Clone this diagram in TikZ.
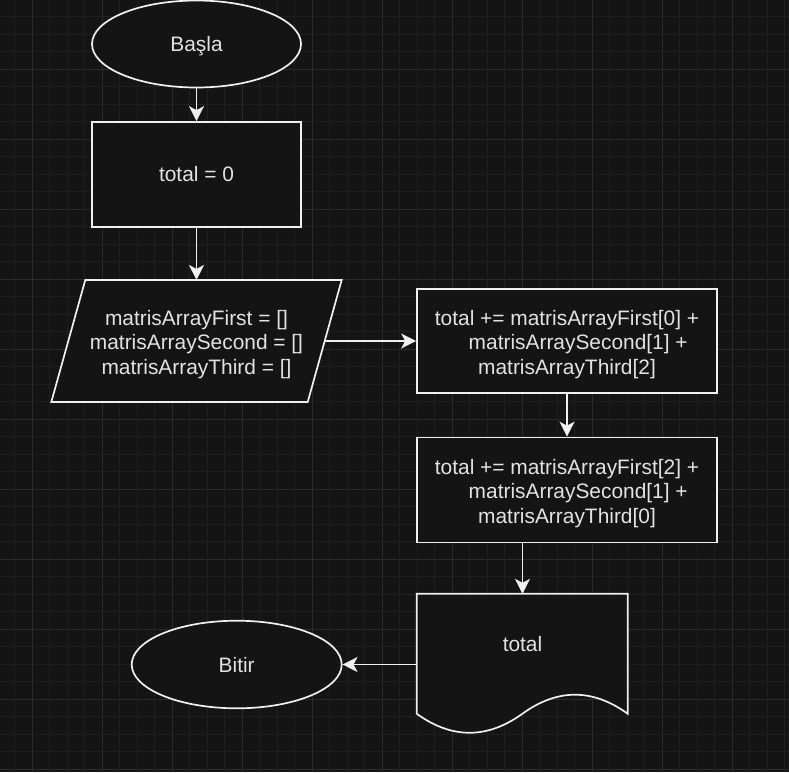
\documentclass[tikz,border=0pt]{standalone}
\usepackage{fontspec}
\setmainfont{Liberation Sans}
\usetikzlibrary{arrows.meta,shapes.geometric}
\definecolor{canvas}{HTML}{141414}
\definecolor{gridminor}{HTML}{1F1F1F}
\definecolor{gridmajor}{HTML}{2B2B2B}
\definecolor{ink}{HTML}{F0F0F0}
\definecolor{labelink}{HTML}{E2E2E2}
% taller first line so the text block sits a little lower in its box
\newcommand{\firstlinestrut}{\rule{0pt}{22.3pt}}

\begin{document}
\begin{tikzpicture}[x=1pt,y=-1pt,
  every node/.style={text=labelink, font=\fontsize{20.9}{24.5}\selectfont},
  shapeline/.style={draw=ink, line width=1.7pt, fill=canvas},
  terminal/.style={shapeline, ellipse, minimum width=209pt, minimum height=87pt, inner sep=0pt, text depth=0pt},
  process/.style={shapeline, rectangle, minimum width=300pt, minimum height=104.5pt, align=center, inner sep=0pt},
  frame/.style={rectangle, inner sep=0pt},
  flow/.style={draw=ink, line width=1.7pt, -{Stealth[length=15pt,width=15pt,inset=4pt]}},
  minorline/.style={draw=gridminor, line width=1pt},
  majorline/.style={draw=gridmajor, line width=1pt},
]
\useasboundingbox (0,0) rectangle (789,772);

% canvas and grid
\fill[canvas] (0,0) rectangle (789,772);
\foreach \k in {0,...,44} \draw[minorline] (14.8+17.5*\k,0) -- (14.8+17.5*\k,772);
\foreach \k in {0,...,43} \draw[minorline] (0,16.5+17.5*\k) -- (789,16.5+17.5*\k);
\foreach \k in {0,...,10} \draw[majorline] (32.3+70*\k,0) -- (32.3+70*\k,772);
\foreach \k in {0,...,10} \draw[majorline] (0,69+70*\k) -- (789,69+70*\k);

% start / init
\node[terminal] (start) at (196.5,44) {Başla};
\node[shapeline, rectangle, minimum width=209pt, minimum height=105pt, inner sep=0pt] (init) at (196.5,174.5) {total = 0};

% input parallelogram
\path node[frame, minimum width=256pt, minimum height=121.7pt] (inp) at (196.5,341) {};
\draw[shapeline] ([xshift=17pt]inp.north west) -- ([xshift=17pt]inp.north east)
  -- ([xshift=-17pt]inp.south east) -- ([xshift=-17pt]inp.south west) -- cycle;
\node[align=center, yshift=-3.5pt] (inptext) at (inp.center) {matrisArrayFirst = []\\matrisArraySecond = []\\matrisArrayThird = []};

% processing steps
\node[process] (sum1) at (567,341) {\firstlinestrut total += matrisArrayFirst[0] +\\\hspace*{22.4pt}matrisArraySecond[1] +\\matrisArrayThird[2]};
\node[process, minimum height=105pt] (sum2) at (567,490) {\firstlinestrut total += matrisArrayFirst[2] +\\\hspace*{22.4pt}matrisArraySecond[1] +\\matrisArrayThird[0]};

% output document
\path node[frame, minimum width=211pt, minimum height=141pt] (out) at (522.5,664.5) {};
\begin{scope}[shift={(out.north west)}]
  \draw[shapeline] (0,0) -- (211,0) -- (211,120)
    .. controls (175.83,94.53) and (140.67,94.53) .. (105.5,120)
    .. controls (70.33,145.27) and (35.17,145.27) .. (0,120) -- cycle;
\end{scope}
\node (outtext) at (522.5,643.8) {total};

% end
\node[terminal, minimum width=210pt, minimum height=87.6pt] (stop) at (236.7,664.5) {Bitir};

% connectors
\draw[flow] (start) -- (init);
\draw[flow] (init) -- (inp.north);
\draw[flow] (inp.east) -- (sum1.west);
\draw[flow] (sum1) -- (sum2);
\draw[flow] (sum2.south -| out.north) -- (out.north);
\draw[flow] (out.west) -- (stop.east);
\end{tikzpicture}
\end{document}
